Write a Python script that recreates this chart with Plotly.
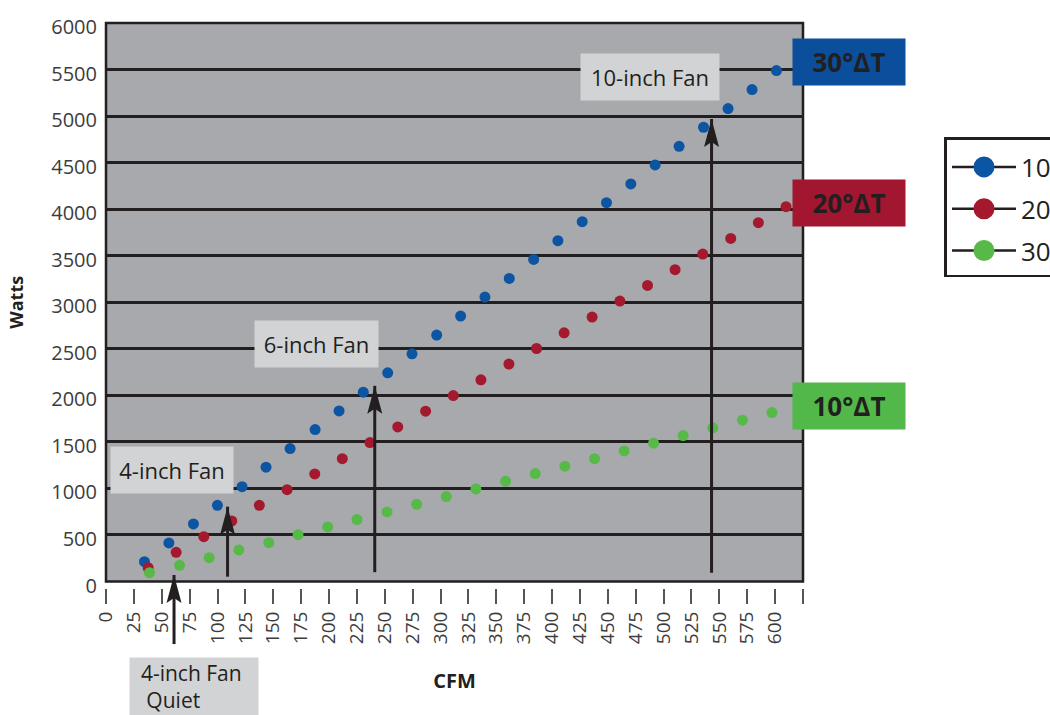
import plotly.graph_objects as go

# values (CFM, Watts)
blue_cfm = [34.5, 56.4, 78.4, 99.9, 122.0, 143.5, 165.1, 187.5, 209.0, 230.7, 252.6, 274.4, 296.5, 318.0,
            339.8, 361.6, 383.5, 405.2, 427.0, 448.8, 470.6, 492.4, 513.9, 535.8, 557.8, 579.3, 601.2]
blue_watts = [213, 414, 618, 819, 1019, 1228, 1428, 1632, 1833, 2034, 2242, 2446, 2647, 2852,
              3056, 3256, 3460, 3661, 3866, 4070, 4271, 4475, 4675, 4880, 5081, 5285, 5489]

red_cfm = [37.8, 62.9, 87.7, 112.8, 137.5, 162.4, 187.2, 211.9, 236.7, 261.6, 286.6, 311.4,
           336.2, 361.3, 386.1, 410.8, 435.9, 460.8, 485.6, 510.3, 535.1, 560.2, 585.0, 609.8]
red_watts = [148, 314, 482, 651, 819, 987, 1156, 1320, 1492, 1661, 1830, 1998,
             2167, 2336, 2503, 2672, 2841, 3013, 3181, 3350, 3518, 3686, 3855, 4027]

green_cfm = [39.0, 65.9, 92.5, 119.1, 146.0, 172.2, 198.8, 225.1, 252.0, 278.6, 305.1,
             331.7, 358.3, 384.9, 411.5, 438.1, 464.6, 491.0, 517.5, 544.1, 570.7, 597.2]
green_watts = [95, 174, 256, 339, 417, 503, 586, 665, 747, 830, 912,
               995, 1077, 1159, 1239, 1320, 1403, 1486, 1568, 1651, 1733, 1815]

legend_names = ["10", "20", "30"]
delta_labels = ["30°ΔT", "20°ΔT", "10°ΔT"]
delta_label_watts = [5583, 4065, 1884]

fan_labels = ["10-inch Fan", "6-inch Fan", "4-inch Fan"]
fan_label_cfm = [487.6, 188.6, 59.1]
fan_label_watts = [5422, 2552, 1194]
quiet_label = "&nbsp;&nbsp;4-inch Fan<br>&nbsp;&nbsp;&nbsp;Quiet"

# arrows: cfm position, tip and tail in watts
arrow_cfm = [61, 109, 241, 543]
arrow_tip = [70, 804, 2102, 4970]
arrow_tail = [-672, 52, 100, 95]

x_ticks = list(range(0, 650, 25))
x_tick_labels = [str(v) for v in range(0, 625, 25)] + [""]
y_ticks = list(range(0, 6500, 500))
y_tick_labels = [str(v) for v in y_ticks]

Y_MAX = 6000
FONT = "Open Sans"
INK = "#231F20"
BLUE, RED, GREEN = "#0B55A3", "#A5192F", "#57B947"
BOX_COLORS = ["#0B4F9C", "#A21630", "#52B84A"]
LABEL_BG = "#D1D3D4"

fig = go.Figure()

for xs, ys, c in [(blue_cfm, blue_watts, BLUE), (red_cfm, red_watts, RED), (green_cfm, green_watts, GREEN)]:
    fig.add_trace(go.Scatter(x=xs, y=ys, mode="markers", showlegend=False,
                             marker=dict(color=c, size=11, line=dict(width=0))))

# legend-only entries (line + big dot)
for name, c in zip(legend_names, [BLUE, RED, GREEN]):
    fig.add_trace(go.Scatter(x=[None], y=[None], mode="lines+markers", name=name, legendgroup=name,
                             line=dict(color=INK, width=2.5),
                             marker=dict(color=c, size=16, line=dict(color=c, width=5))))

# arrows
for cx, tip, tail in zip(arrow_cfm, arrow_tip, arrow_tail):
    fig.add_shape(type="line", xref="x", yref="y domain", x0=cx, x1=cx,
                  y0=tail / Y_MAX, y1=tip / Y_MAX, line=dict(color=INK, width=3))
    fig.add_shape(type="path", xref="x", yref="y domain", xsizemode="pixel", ysizemode="pixel",
                  xanchor=cx, yanchor=tip / Y_MAX, path="M0,0 L7.5,-28 L0,-23 L-7.5,-28 Z",
                  fillcolor=INK, line=dict(width=0))

# plot frame
fig.add_shape(type="rect", xref="x domain", yref="y domain", x0=0, x1=1, y0=0, y1=1,
              line=dict(color=INK, width=2.5), fillcolor="rgba(0,0,0,0)")

for text, yv, bg in zip(delta_labels, delta_label_watts, BOX_COLORS):
    fig.add_annotation(text="<b>" + text + "</b>", xref="paper", yref="y", x=1.0655, y=yv,
                       xanchor="center", yanchor="middle",
                       showarrow=False, width=112, height=46, bgcolor=bg, borderpad=0,
                       font=dict(family=FONT, size=26, color=INK))

for text, xv, yv, w in zip(fan_labels, fan_label_cfm, fan_label_watts, [138, 123, 122]):
    fig.add_annotation(text=text, x=xv, y=yv, xanchor="center", yanchor="middle",
                       showarrow=False, bgcolor=LABEL_BG, borderpad=0, width=w, height=46,
                       font=dict(family=FONT, size=22, color=INK))

fig.add_annotation(text=quiet_label, xref="paper", yref="paper", x=0.1265, y=-0.1221,
                   xanchor="center", yanchor="top", showarrow=False, align="left", valign="middle",
                   width=128, height=57, bgcolor=LABEL_BG, borderpad=0,
                   font=dict(family=FONT, size=21, color=INK))

fig.update_layout(
    width=1050, height=715,
    margin=dict(l=106, r=247, t=23, b=127, autoexpand=False),
    plot_bgcolor="#A7A9AC", paper_bgcolor="white",
    font=dict(family=FONT, color=INK),
    legend=dict(x=1.203, xanchor="left", y=0.798, yanchor="top", bgcolor="white",
                bordercolor=INK, borderwidth=2.5, itemwidth=64,
                traceorder="grouped", tracegroupgap=5,
                title=dict(text="&nbsp;", font=dict(size=3)),
                font=dict(family=FONT, size=26, color=INK)),
    xaxis=dict(range=[0, 625], anchor="free", position=0, tickmode="array",
               tickvals=x_ticks, ticktext=x_tick_labels, tickangle=-90,
               ticks="outside", ticklen=15, tickwidth=1.5, tickcolor="#555",
               showgrid=False, zeroline=False, showline=False,
               tickfont=dict(family=FONT, size=19, color="#3d3d3d"),
               title=dict(text="<b>CFM</b>", standoff=30, font=dict(family=FONT, size=20, color=INK))),
    yaxis=dict(range=[0, Y_MAX], domain=[0.0115, 1], tickmode="array",
               tickvals=y_ticks, ticktext=y_tick_labels, ticks="",
               showgrid=True, gridcolor=INK, gridwidth=3, zeroline=False, showline=False,
               ticklabelstandoff=8, ticklabelshift=4,
               tickfont=dict(family=FONT, size=20, color="#3d3d3d"),
               title=dict(text="<b>Watts</b>", standoff=22, font=dict(family=FONT, size=18, color=INK))),
)

fig.write_html("out.html", config={"displayModeBar": False},
               post_script="document.body.style.margin='0';")
